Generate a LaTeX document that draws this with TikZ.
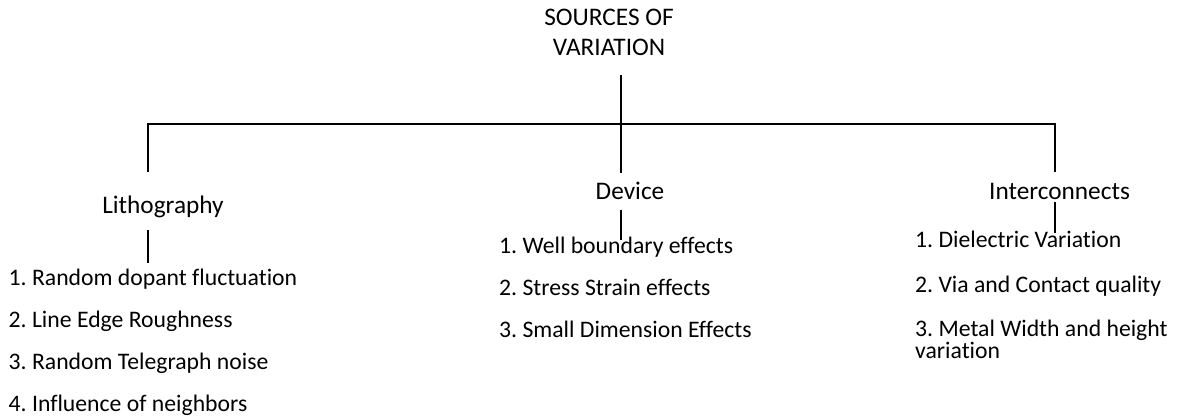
\documentclass[tikz,border=0pt]{standalone}
\usepackage{fontspec}
\setmainfont{Carlito}[Ligatures=CommonOff]
\frenchspacing
\begin{document}
\begin{tikzpicture}[x=1pt,y=-1pt,
  head/.style={font=\fontsize{25.3}{30}\selectfont, inner sep=0pt, anchor=base, align=center},
  item/.style={font=\fontsize{23.7}{22}\selectfont, inner sep=0pt, anchor=base west, align=left},
  link/.style={line width=1.1pt}]
\useasboundingbox (0,0) rectangle (1182,418);

% headings (base of a two-line node sits on its last line)
\node[head] (title) at (609,55) {SOURCES OF\\VARIATION};
\node[head] (litho) at (163,213) {Lithography};
\node[head] (device) at (630,199) {Device};
\node[head] (inter) at (1059.5,199) {Interconnects};

% lithography items
\node[item] (l1) at (8.5,285) {1. Random dopant fluctuation};
\node[item] (l2) at (8.5,327) {2. Line Edge Roughness};
\node[item] (l3) at (8.5,369) {3. Random Telegraph noise};
\node[item] (l4) at (8.5,411) {4. Influence of neighbors};

% device items
\node[item] (d1) at (499,253) {1. Well boundary effects};
\node[item] (d2) at (499,295) {2. Stress Strain effects};
\node[item] (d3) at (499,337) {3. Small Dimension Effects};

% interconnect items
\node[item] (i1) at (915,247) {1. Dielectric Variation};
\node[item] (i2) at (915,292) {2. Via and Contact quality};
\node[item] (i3) at (915,358) {3. Metal Width and height\\variation};

% tree connectors
\coordinate (rootTop) at (621,75);
\coordinate (rootBot) at (621,173);
\coordinate (barL) at (148,124);
\coordinate (barR) at (1055,124);
\coordinate (dropL) at (148,172);
\coordinate (dropR) at (1055,172);
\coordinate (lithoTop) at (148,230);
\coordinate (lithoBot) at (148,263);
\coordinate (devTop) at (621,210);
\coordinate (devBot) at (621,240);
\coordinate (intTop) at (1055,202);
\coordinate (intBot) at (1055,233);

\draw[link] (rootTop) -- (rootBot);
\draw[link] (dropL) -- (barL) -- (barR) -- (dropR);
\draw[link] (lithoTop) -- (lithoBot);
\draw[link] (devTop) -- (devBot);
\draw[link] (intTop) -- (intBot);
\end{tikzpicture}
\end{document}
